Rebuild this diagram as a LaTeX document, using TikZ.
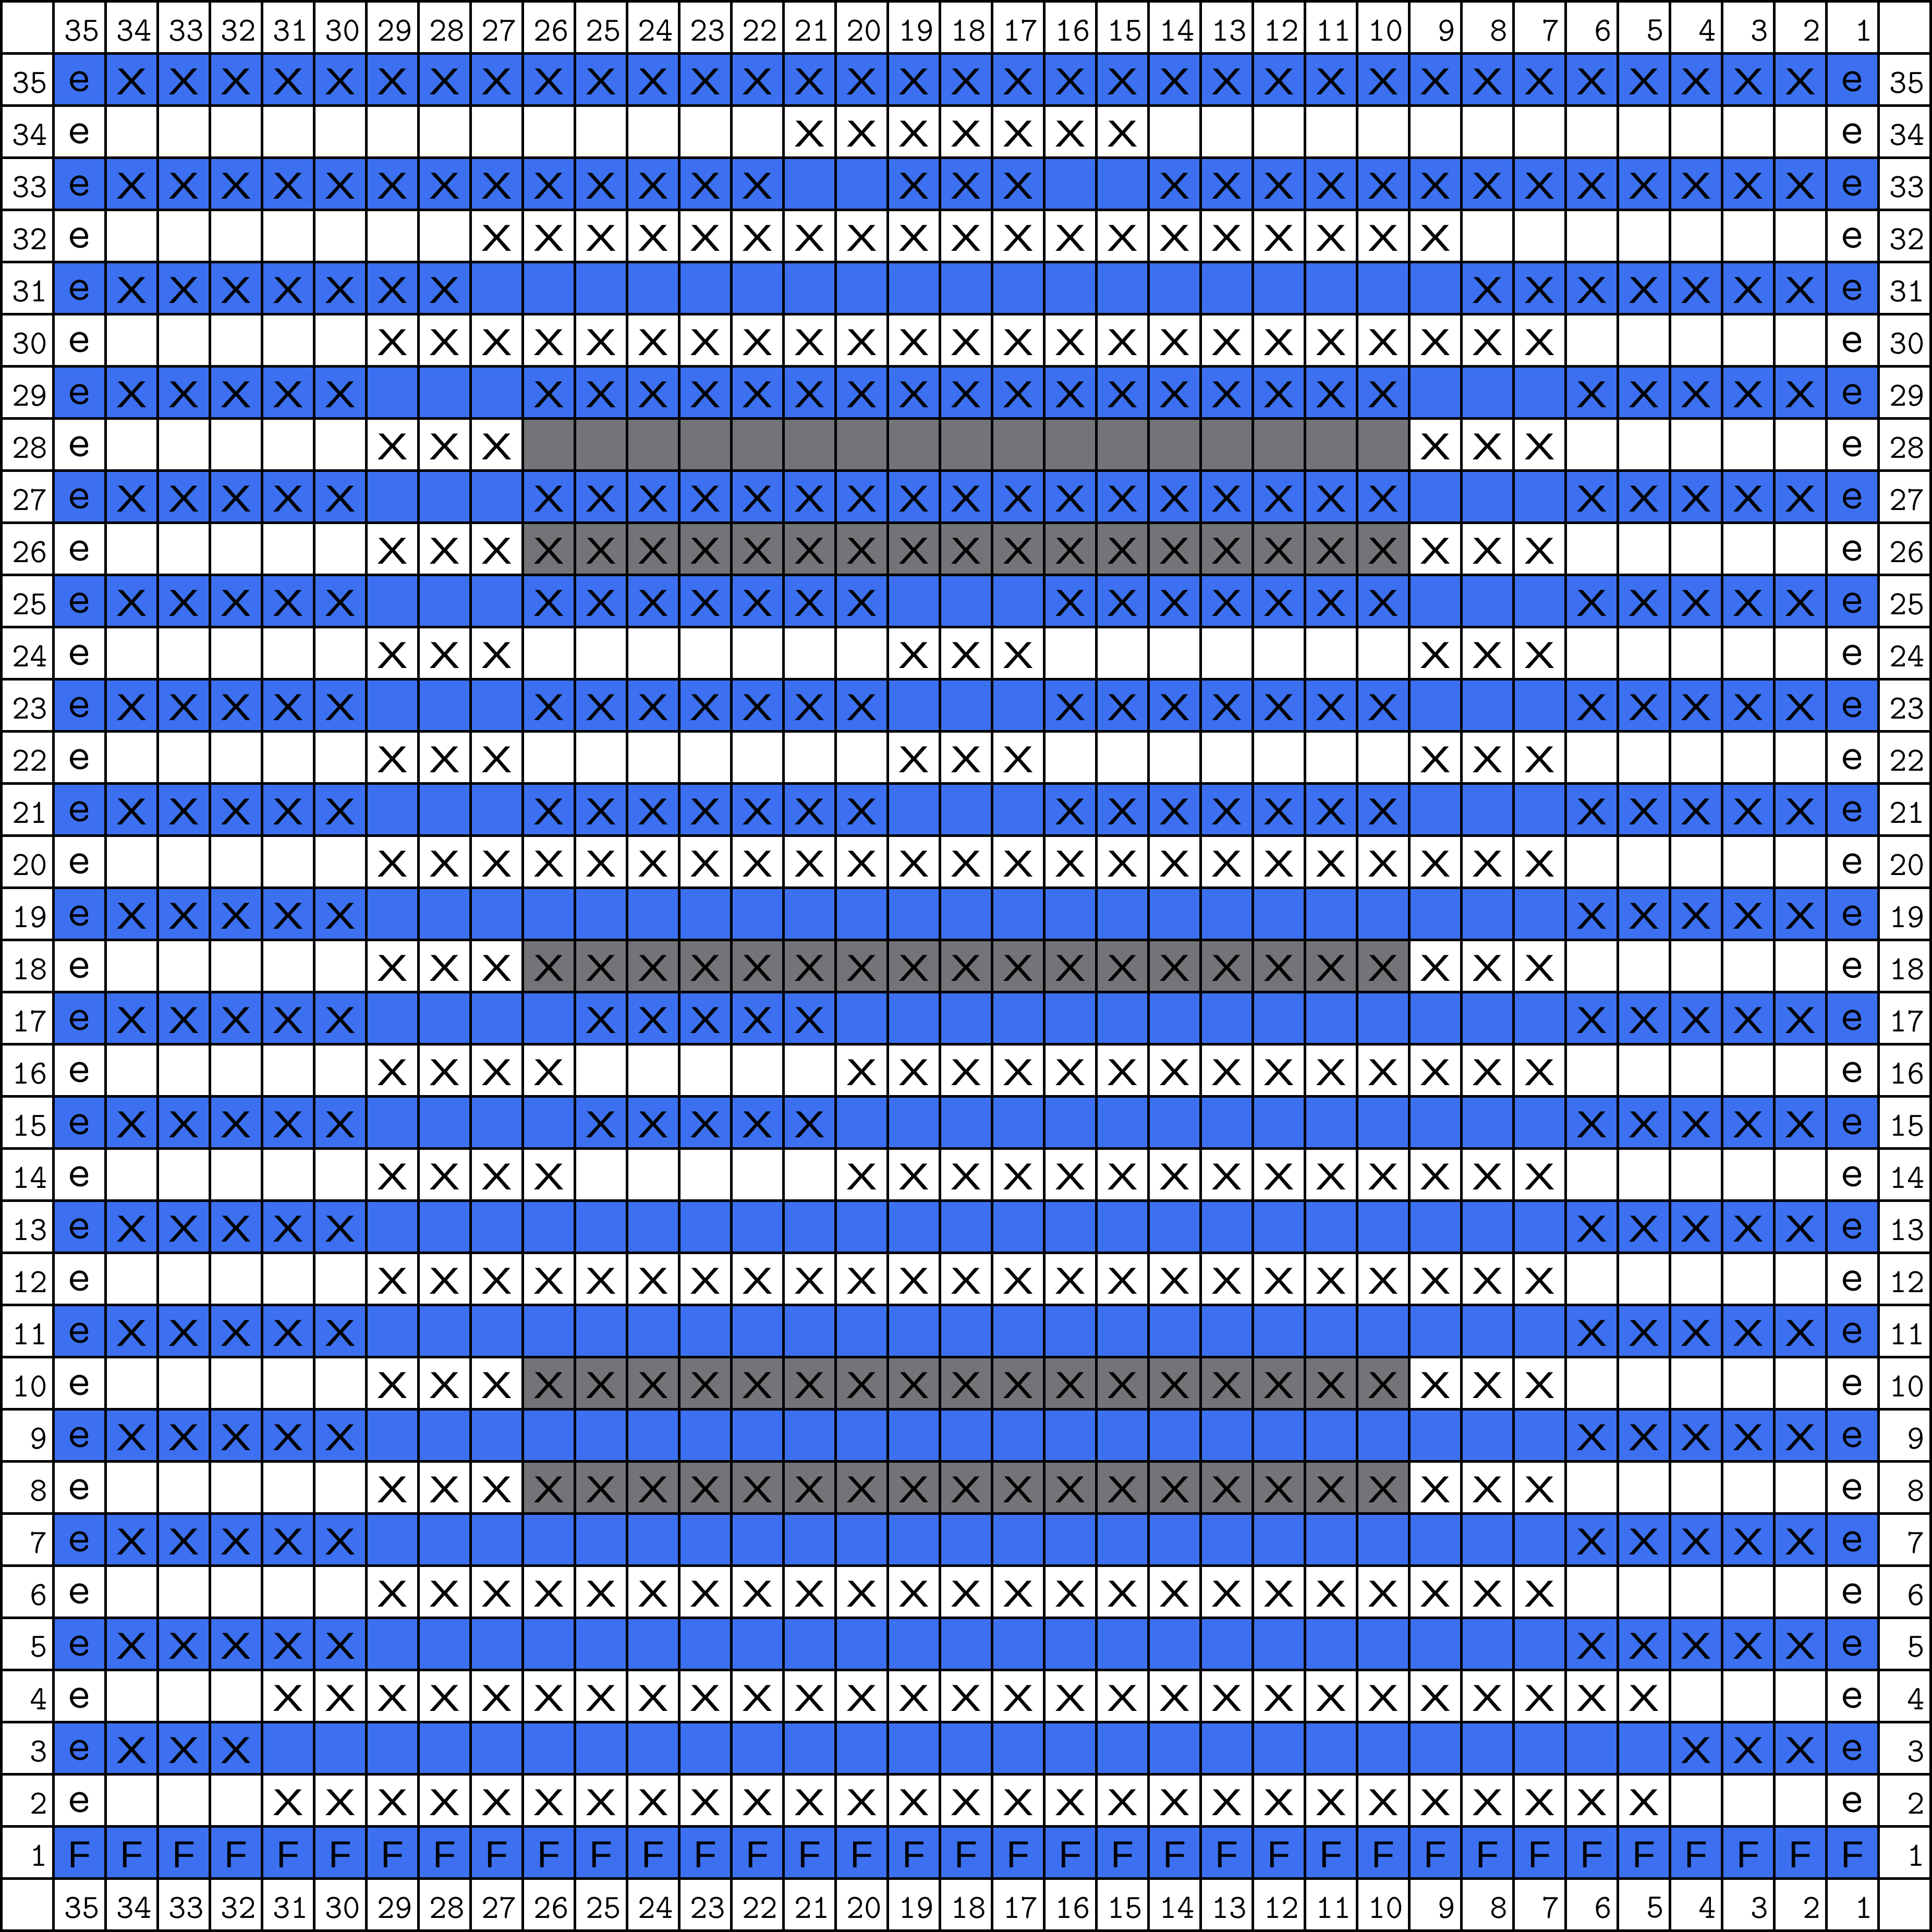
\documentclass[tikz,border=0pt]{standalone}
\usepackage{fontspec}
\usepackage{xcolor}
\usepackage{graphicx}
\newfontfamily\chartsans{Liberation Sans}
\definecolor{rowblue}{HTML}{3C70F0}
\definecolor{purlgray}{HTML}{737478}
\definecolor{gridblack}{HTML}{000000}
\newcommand{\knitx}{\scalebox{1.25}[1]{X}}
\usepackage{tikz}
\usetikzlibrary{positioning}

\begin{document}
\begin{tikzpicture}[
    x=1cm, y=1cm,
    gridline/.style={draw=gridblack, line width=0.05cm},
    stitch/.style={inner sep=0pt, yshift=-0.04cm, font=\chartsans\fontsize{20.5}{20.5}\selectfont},
    edge/.style={inner sep=0pt, yshift=-0.04cm, font=\ttfamily\fontsize{25}{25}\selectfont},
    numlabel/.style={inner sep=0pt, anchor=east, yshift=-0.06cm, font=\ttfamily\fontsize{18.5}{18.5}\selectfont},
]
\useasboundingbox (-0.025,-0.025) rectangle (37.025,37.025);

% ── Row colours ──
\foreach \r in {1,3,...,35}
    \fill[rowblue] (1,\r) rectangle (36,\r+1);
\foreach \r in {28,26,18,10,8}
    \fill[purlgray] (10,\r) rectangle (27,\r+1);

% ── Grid ──
\draw[gridline] (0,0) grid (37,37);
\draw[gridline] (0,0) rectangle (37,37);

% ── Column and row numbers ──
\foreach \c in {1,...,35} {
    \node[numlabel] (top-\c) at (37-\c-0.11, 36.5) {\c};
    \node[numlabel] (bot-\c) at (37-\c-0.11, 0.5) {\c};
}
\foreach \r in {1,...,35} {
    \node[numlabel] (left-\r) at (0.89, \r+0.5) {\r};
    \node[numlabel] (right-\r) at (36.89, \r+0.5) {\r};
}

% ── Edge stitches ──
\foreach \r in {2,...,35} {
    \node[edge] (e-\r-35) at (1.5, \r+0.5) {e};
    \node[edge] (e-\r-1) at (35.5, \r+0.5) {e};
}
\foreach \c in {1,...,35}
    \node[stitch] (f-\c) at (36.5-\c, 1.5) {F};

% ── Stitch runs (row / low-high columns) ──
\foreach \r/\runs in {
    35/{2/34}, 34/{15/21}, 33/{2/14,17/19,22/34}, 32/{9/27},
    31/{2/8,28/34}, 30/{7/29}, 29/{2/6,10/26,30/34}, 28/{7/9,27/29},
    27/{2/6,10/26,30/34}, 26/{7/29}, 25/{2/6,10/16,20/26,30/34}, 24/{7/9,17/19,27/29},
    23/{2/6,10/16,20/26,30/34}, 22/{7/9,17/19,27/29}, 21/{2/6,10/16,20/26,30/34}, 20/{7/29},
    19/{2/6,30/34}, 18/{7/29}, 17/{2/6,21/25,30/34}, 16/{7/20,26/29},
    15/{2/6,21/25,30/34}, 14/{7/20,26/29}, 13/{2/6,30/34}, 12/{7/29},
    11/{2/6,30/34}, 10/{7/29}, 9/{2/6,30/34}, 8/{7/29},
    7/{2/6,30/34}, 6/{7/29}, 5/{2/6,30/34}, 4/{5/31},
    3/{2/4,32/34}, 2/{5/31}} {
    \foreach \a/\b in \runs {
        \foreach \c in {\a,...,\b}
            \node[stitch] (x-\r-\c) at (36.5-\c, \r+0.5) {\knitx};
    }
}
\end{tikzpicture}
\end{document}
